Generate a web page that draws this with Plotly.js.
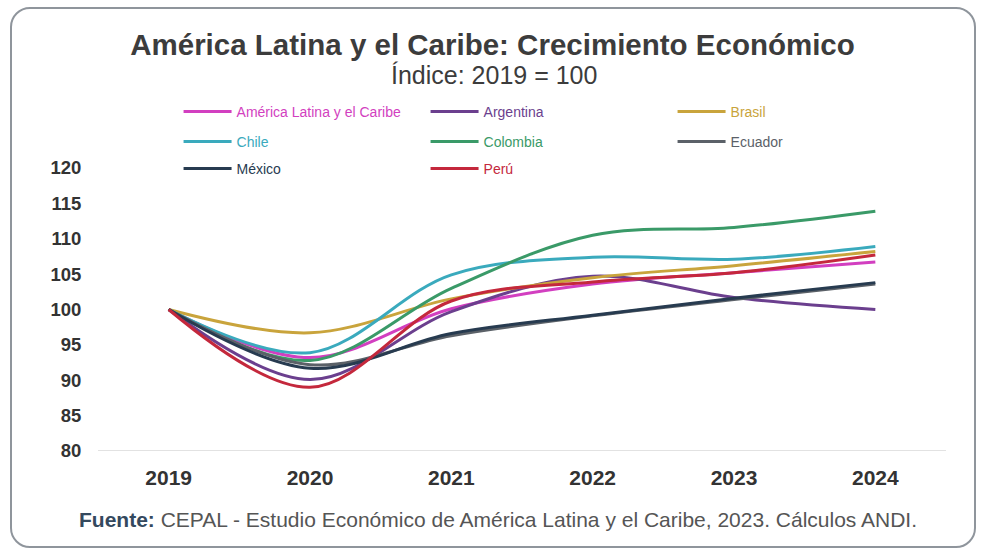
<!DOCTYPE html>
<html>
<head>
<meta charset="utf-8">
<script src="https://cdn.plot.ly/plotly-3.0.1.min.js"></script>
<style>
  html, body { margin: 0; padding: 0; background: #ffffff; }
  #wrap { position: relative; width: 985px; height: 554px; }
  #chart { position: absolute; left: 0; top: 0; width: 985px; height: 554px; }
  #frame { position: absolute; left: 10px; top: 7px; width: 962px; height: 537px;
           border: 2px solid #8f959c; border-radius: 20px; pointer-events: none; }
</style>
</head>
<body>
<div id="wrap">
  <div id="chart"></div>
  <div id="frame"></div>
</div>
<script>
// ---- Data ----
const years = [2019, 2020, 2021, 2022, 2023, 2024];
const yearLabels = ['2019', '2020', '2021', '2022', '2023', '2024'];
const yTicks = [80, 85, 90, 95, 100, 105, 110, 115, 120];

const seriesNames = ['América Latina y el Caribe', 'Argentina', 'Brasil',
                     'Chile', 'Colombia', 'Ecuador', 'México', 'Perú'];
const lac       = [100, 93.2, 100.1, 103.6, 105.2, 106.7];
const argentina = [100, 90.1, 99.7, 104.7, 101.7, 100.0];
const brasil    = [100, 96.7, 101.5, 104.5, 106.2, 108.2];
const chile     = [100, 93.9, 104.9, 107.4, 107.1, 108.9];
const colombia  = [100, 92.8, 103.0, 110.5, 111.6, 113.9];
const ecuador   = [100, 92.2, 96.3, 99.1, 101.4, 103.6];
const mexico    = [100, 91.7, 96.6, 99.2, 101.6, 103.8];
const peru      = [100, 89.0, 101.2, 103.9, 105.2, 107.7];

const seriesValues = [lac, argentina, brasil, chile, colombia, ecuador, mexico, peru];
const seriesColors = ['#d23fc0', '#6b3f8e', '#c9a43c', '#3aaabd',
                      '#3a9a68', '#5b6168', '#273b50', '#c4283c'];
// legend rows (three columns laid out row by row)
const legendIds = ['legend', 'legend', 'legend', 'legend2', 'legend2', 'legend2', 'legend3', 'legend3'];

const FONT = 'Liberation Sans, Arial, sans-serif';

const traces = seriesNames.map((n, i) => ({
  type: 'scatter',
  mode: 'lines',
  x: years,
  y: seriesValues[i],
  name: '<span style="color:' + seriesColors[i] + '">' + n + '</span>',
  legend: legendIds[i],
  line: { color: seriesColors[i], width: 3, shape: 'spline', smoothing: 1 },
  hoverinfo: 'x+y'
}));

const legendBase = {
  orientation: 'h',
  xanchor: 'left', yanchor: 'middle',
  x: 0.095,
  itemwidth: 48,
  entrywidth: 184, entrywidthmode: 'pixels',
  bgcolor: 'rgba(0,0,0,0)', borderwidth: 0,
  font: { family: FONT, size: 14 },
  itemclick: false, itemdoubleclick: false
};

const layout = {
  width: 985, height: 554,
  paper_bgcolor: '#ffffff', plot_bgcolor: '#ffffff',
  margin: { l: 98, r: 39, t: 168, b: 103 },
  font: { family: FONT, color: '#404040' },
  title: {
    text: 'América Latina y el Caribe: Crecimiento Económico',
    font: { family: FONT, size: 29.5, color: '#3c3c3c', weight: 'bold' },
    x: 0.5, xanchor: 'center', xref: 'container',
    y: 0.919, yanchor: 'middle', yref: 'container'
  },
  xaxis: {
    type: 'linear',
    range: [2018.5, 2024.5],
    tickvals: years, ticktext: yearLabels,
    showgrid: false, zeroline: false, showline: false,
    ticks: 'outside', ticklen: 8, tickcolor: 'rgba(0,0,0,0)',
    tickfont: { family: FONT, size: 21, color: '#333333', weight: 'bold' },
    fixedrange: true
  },
  yaxis: {
    range: [80, 120],
    tickvals: yTicks,
    showgrid: false, zeroline: false, showline: false,
    ticks: 'outside', ticklen: 12, tickcolor: 'rgba(0,0,0,0)',
    tickfont: { family: FONT, size: 18.5, color: '#333333', weight: 'bold' },
    fixedrange: true
  },
  shapes: [{
    type: 'line', xref: 'paper', yref: 'y',
    x0: 0, x1: 1, y0: 80, y1: 80,
    line: { color: '#d9d9d9', width: 1.5 }
  }],
  legend:  Object.assign({}, legendBase, { y: 1.198 }),
  legend2: Object.assign({}, legendBase, { y: 1.092 }),
  legend3: Object.assign({}, legendBase, { y: 0.9965 }),
  annotations: [
    {
      xref: 'paper', yref: 'paper', x: 0.467, y: 1.3286,
      xanchor: 'center', yanchor: 'middle', showarrow: false,
      text: 'Índice: 2019 = 100',
      font: { family: FONT, size: 25, color: '#3c3c3c' }
    },
    {
      xref: 'paper', yref: 'paper', x: 0.4717, y: -0.2438,
      xanchor: 'center', yanchor: 'middle', showarrow: false,
      text: '<b style="color:#34495e">Fuente:</b> CEPAL - Estudio Económico de América Latina y el Caribe, 2023. Cálculos ANDI.',
      font: { family: FONT, size: 21, color: '#555555' }
    }
  ]
};

Plotly.newPlot('chart', traces, layout, { displayModeBar: false });
</script>
</body>
</html>
